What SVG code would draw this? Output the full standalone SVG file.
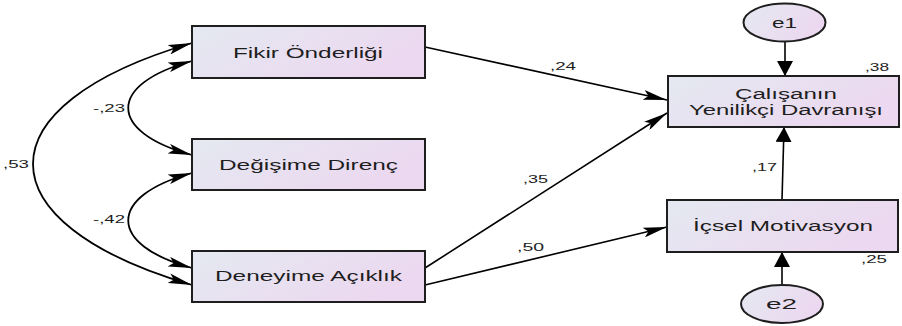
<svg xmlns="http://www.w3.org/2000/svg" width="902" height="326" viewBox="0 0 902 326">
  <defs>
    <linearGradient id="fill" x1="0" y1="0" x2="1" y2="0.4">
      <stop offset="0" stop-color="#e4e9f1"/>
      <stop offset="1" stop-color="#ecd8f0"/>
    </linearGradient>
    <!-- long notched head used on paths and covariances -->
    <marker id="head" markerUnits="userSpaceOnUse" markerWidth="24" markerHeight="10" viewBox="0 0 24 10" refX="24" refY="5" orient="auto">
      <path d="M0,0 L24,5 L0,10 L5,5 Z" fill="#000"/>
    </marker>
    <marker id="headStart" markerUnits="userSpaceOnUse" markerWidth="24" markerHeight="10" viewBox="0 0 24 10" refX="24" refY="5" orient="auto-start-reverse">
      <path d="M0,0 L24,5 L0,10 L5,5 Z" fill="#000"/>
    </marker>
    <!-- short wide head used on vertical arrows -->
    <marker id="vhead" markerUnits="userSpaceOnUse" markerWidth="15" markerHeight="16" viewBox="0 0 15 16" refX="15" refY="8" orient="auto">
      <path d="M0,0 L15,8 L0,16 Z" fill="#000"/>
    </marker>
  </defs>
  <style>
    .box { fill: url(#fill); stroke: #1e1e1e; stroke-width: 2; }
    .lbl { font-family: "Liberation Sans", Arial, sans-serif; font-size: 14px; fill: #1e1e1e; }
    .num { font-family: "Liberation Sans", Arial, sans-serif; font-size: 11px; fill: #1e1e1e; }
    .edge { fill: none; stroke: #000; stroke-width: 1.6; }
    .cov { fill: none; stroke: #000; stroke-width: 1.8; }
  </style>

  <g id="connectors">
    <path class="cov" d="M192,43 C-20,105 -20,223 192,285" marker-start="url(#headStart)" marker-end="url(#head)"/>
    <path class="cov" d="M192,61 C107,84 107,132 192,155" marker-start="url(#headStart)" marker-end="url(#head)"/>
    <path class="cov" d="M192,173 C107,196 107,245 192,268" marker-start="url(#headStart)" marker-end="url(#head)"/>
    <line class="edge" x1="425" y1="47" x2="667" y2="100" marker-end="url(#head)"/>
    <line class="edge" x1="425" y1="268" x2="667" y2="113" marker-end="url(#head)"/>
    <line class="edge" x1="425" y1="285" x2="667" y2="227" marker-end="url(#head)"/>
    <line class="edge" x1="785" y1="42" x2="785" y2="76" marker-end="url(#vhead)"/>
    <line class="edge" x1="782" y1="200" x2="784" y2="127" marker-end="url(#vhead)"/>
    <line class="edge" x1="782" y1="285" x2="782" y2="252" marker-end="url(#vhead)"/>
    <text class="num" x="3" y="168" textLength="26" lengthAdjust="spacingAndGlyphs">,53</text>
    <text class="num" x="93" y="112" textLength="32" lengthAdjust="spacingAndGlyphs">-,23</text>
    <text class="num" x="93" y="223" textLength="32" lengthAdjust="spacingAndGlyphs">-,42</text>
    <text class="num" x="550" y="70" textLength="26" lengthAdjust="spacingAndGlyphs">,24</text>
    <text class="num" x="523" y="183" textLength="25" lengthAdjust="spacingAndGlyphs">,35</text>
    <text class="num" x="517" y="251" textLength="27" lengthAdjust="spacingAndGlyphs">,50</text>
    <text class="num" x="752" y="171" textLength="25" lengthAdjust="spacingAndGlyphs">,17</text>
  </g>

  <g id="fikir">
    <rect class="box" x="192" y="26" width="233" height="52"/>
    <text class="lbl" x="233" y="57.5" textLength="150" lengthAdjust="spacingAndGlyphs">Fikir Önderliği</text>
  </g>
  <g id="degisime">
    <rect class="box" x="192" y="139" width="233" height="51"/>
    <text class="lbl" x="219" y="169.5" textLength="179" lengthAdjust="spacingAndGlyphs">Değişime Direnç</text>
  </g>
  <g id="deneyime">
    <rect class="box" x="192" y="251" width="233" height="51"/>
    <text class="lbl" x="215" y="281" textLength="187" lengthAdjust="spacingAndGlyphs">Deneyime Açıklık</text>
  </g>
  <g id="calisan">
    <rect class="box" x="668" y="76" width="231" height="51"/>
    <text class="lbl" x="735" y="99" textLength="102" lengthAdjust="spacingAndGlyphs">Çalışanın</text>
    <text class="lbl" x="689" y="115" textLength="194" lengthAdjust="spacingAndGlyphs">Yenilikçi Davranışı</text>
    <text class="num" x="865" y="71" textLength="24" lengthAdjust="spacingAndGlyphs">,38</text>
  </g>
  <g id="icsel">
    <rect class="box" x="667" y="200" width="231" height="52"/>
    <text class="lbl" x="693" y="231" textLength="180" lengthAdjust="spacingAndGlyphs">İçsel Motivasyon</text>
    <text class="num" x="861" y="263" textLength="26" lengthAdjust="spacingAndGlyphs">,25</text>
  </g>
  <g id="e1">
    <ellipse class="box" cx="784.5" cy="22.5" rx="41" ry="19"/>
    <text class="lbl" x="772" y="27.5" textLength="25" lengthAdjust="spacingAndGlyphs">e1</text>
  </g>
  <g id="e2">
    <ellipse class="box" cx="782" cy="304" rx="41" ry="19"/>
    <text class="lbl" x="766" y="309" textLength="31" lengthAdjust="spacingAndGlyphs">e2</text>
  </g>
</svg>
